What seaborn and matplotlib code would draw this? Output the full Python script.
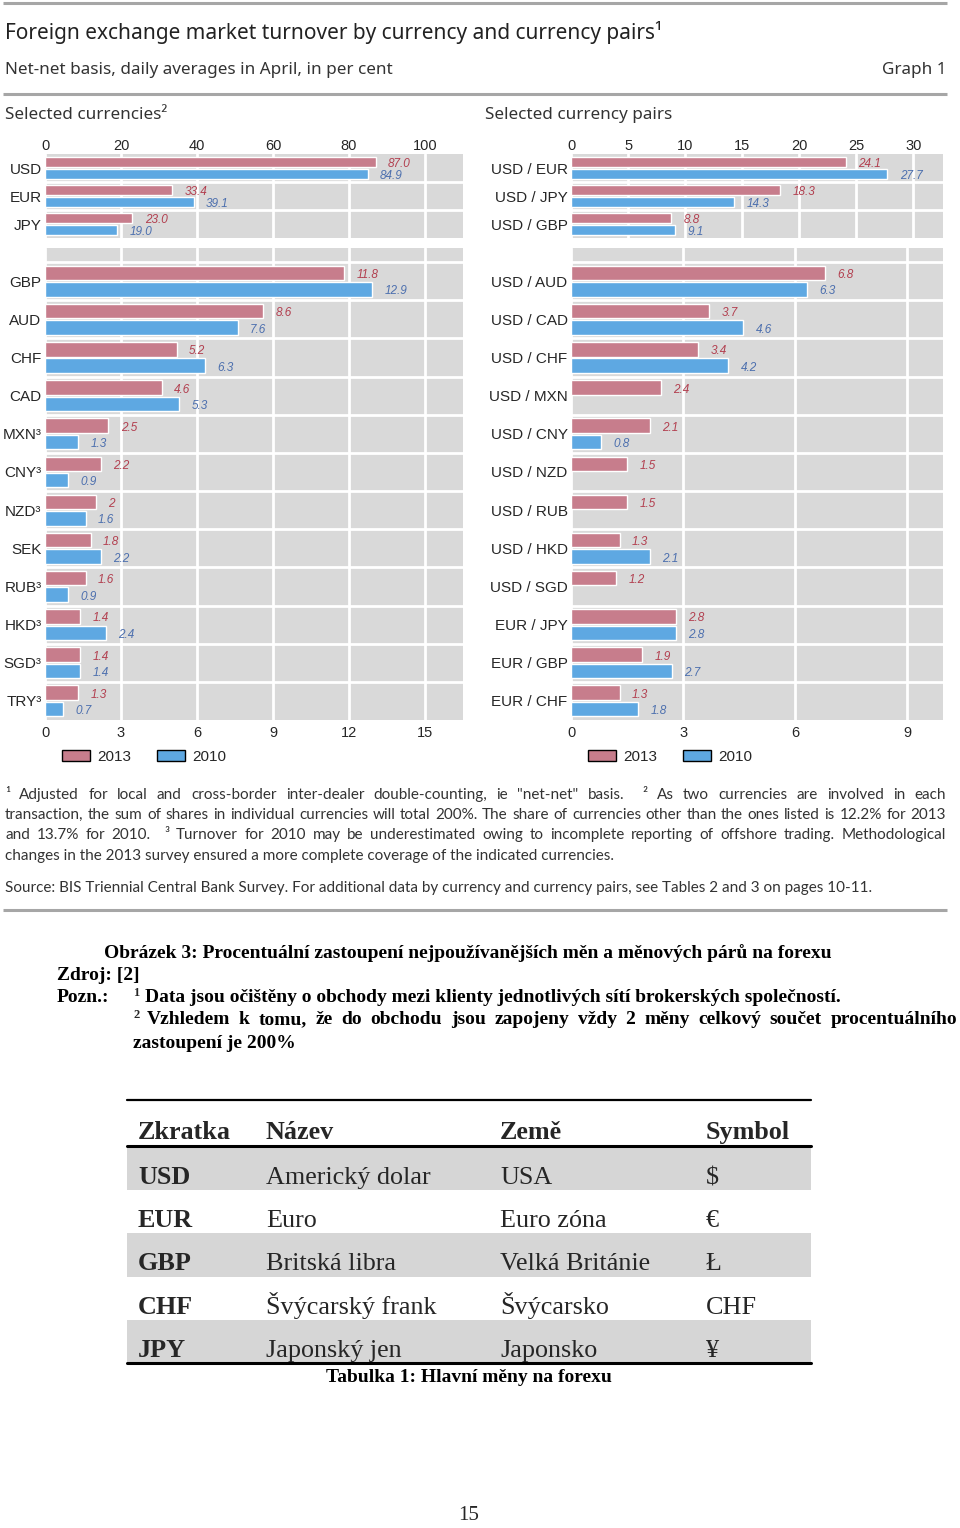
import numpy as np
import pandas as pd
import matplotlib.pyplot as plt
import seaborn as sns
from matplotlib.patches import Patch

# Graph 1 data, per cent of turnover (2013 / 2010)
top_currencies = ["USD", "EUR", "JPY"]
top_currencies_2013 = [87.0, 33.4, 23.0]
top_currencies_2010 = [84.9, 39.1, 19.0]

currencies = ["GBP", "AUD", "CHF", "CAD", "MXN³", "CNY³", "NZD³", "SEK",
              "RUB³", "HKD³", "SGD³", "TRY³"]
currencies_2013 = [11.8, 8.6, 5.2, 4.6, 2.5, 2.2, 2, 1.8, 1.6, 1.4, 1.4, 1.3]
currencies_2010 = [12.9, 7.6, 6.3, 5.3, 1.3, 0.9, 1.6, 2.2, 0.9, 2.4, 1.4, 0.7]

top_pairs = ["USD / EUR", "USD / JPY", "USD / GBP"]
top_pairs_2013 = [24.1, 18.3, 8.8]
top_pairs_2010 = [27.7, 14.3, 9.1]

pairs = ["USD / AUD", "USD / CAD", "USD / CHF", "USD / MXN", "USD / CNY",
         "USD / NZD", "USD / RUB", "USD / HKD", "USD / SGD", "EUR / JPY",
         "EUR / GBP", "EUR / CHF"]
pairs_2013 = [6.8, 3.7, 3.4, 2.4, 2.1, 1.5, 1.5, 1.3, 1.2, 2.8, 1.9, 1.3]
pairs_2010 = [6.3, 4.6, 4.2, np.nan, 0.8, np.nan, np.nan, 2.1, np.nan, 2.8, 2.7, 1.8]

years = ["2013", "2010"]

# table data
tab_header = ["Zkratka", "Název", "Země", "Symbol"]
tab_codes = ["USD", "EUR", "GBP", "CHF", "JPY"]
tab_names = ["Americký dolar", "Euro", "Britská libra", "Švýcarský frank", "Japonský jen"]
tab_countries = ["USA", "Euro zóna", "Velká Británie", "Švýcarsko", "Japonsko"]
tab_symbols = ["$", "€", "Ł", "CHF", "¥"]

PINK = "#C77D8C"
BLUE = "#5EA8E2"
PINK_TXT = "#B23F4F"
BLUE_TXT = "#4C6FAE"
BG = "#D9D9D9"

sns.set_style("darkgrid", {"axes.facecolor": BG, "grid.color": "white"})
plt.rcParams["font.family"] = ["Liberation Sans", "DejaVu Sans"]

W, H = 960, 1528
fig = plt.figure(figsize=(W / 100, H / 100), dpi=100)

# page axes in pixel coordinates for the surrounding text
page = fig.add_axes([0, 0, 1, 1])
page.set_xlim(0, W)
page.set_ylim(H, 0)
page.set_axis_off()


def rect(x0, y0, x1, y1):
    return [x0 / W, 1 - y1 / H, (x1 - x0) / W, (y1 - y0) / H]


def panel(box, labels, v13, v10, xmax, ticks, top, fmt, pad_rows=0.0):
    ax = fig.add_axes(rect(*box))
    n = len(labels)
    df = pd.DataFrame({"label": labels * 2,
                       "year": ["2013"] * n + ["2010"] * n,
                       "value": list(v13) + list(v10)}).dropna()
    sns.barplot(data=df, x="value", y="label", hue="year", hue_order=years,
                order=labels, palette=[PINK, BLUE], saturation=1, orient="h",
                width=0.86, gap=0.12, errorbar=None, legend=False, ax=ax)
    for cont, col in zip(ax.containers, [PINK_TXT, BLUE_TXT]):
        for bar in cont:
            w = bar.get_width()
            if np.isnan(w):
                continue
            ax.annotate(fmt.format(w), (w, bar.get_y() + bar.get_height() / 2),
                        xytext=(9, -1.5), textcoords="offset points",
                        va="center", ha="left", fontsize=8.5, style="italic",
                        color=col)
    ax.set_xlim(0, xmax)
    ax.set_ylim(n - 0.5, -0.5 - pad_rows)
    ax.set_xticks(ticks)
    seps = np.arange(-0.5 if pad_rows else 0.5, n - 0.5)
    ax.set_yticks(seps, minor=True)
    ax.grid(axis="y", which="major", visible=False)
    ax.grid(axis="y", which="minor", color="white", lw=2)
    ax.grid(axis="x", which="major", color="white", lw=2)
    ax.set(xlabel="", ylabel="")
    if top:
        ax.xaxis.tick_top()
        ax.tick_params(axis="x", pad=1)
    else:
        ax.tick_params(axis="x", pad=4)
    ax.tick_params(axis="x", labelsize=10.5, length=0)
    ax.tick_params(axis="y", labelsize=11, length=0, pad=2.5)
    ax.tick_params(which="minor", length=0)
    for s in ax.spines.values():
        s.set_visible(False)
    return ax


panel((45, 154, 463, 238), top_currencies, top_currencies_2013, top_currencies_2010,
      110, range(0, 101, 20), True, "{:.1f}")
panel((45, 248, 463, 720), currencies, currencies_2013, currencies_2010,
      16.5, range(0, 16, 3), False, "{:g}", pad_rows=0.37)
panel((571, 154, 943, 238), top_pairs, top_pairs_2013, top_pairs_2010,
      32.6, range(0, 31, 5), True, "{:.1f}")
panel((571, 248, 943, 720), pairs, pairs_2013, pairs_2010,
      9.95, range(0, 10, 3), False, "{:g}", pad_rows=0.37)

handles = [Patch(facecolor=PINK, edgecolor="black", lw=1, label="2013"),
           Patch(facecolor=BLUE, edgecolor="black", lw=1, label="2010")]
for lx in (62, 588):
    fig.legend(handles=handles, loc="center left",
               bbox_to_anchor=(lx / W, 1 - 757 / H), ncol=2, frameon=False,
               fontsize=11, handlelength=1.85, handleheight=0.75,
               handletextpad=0.45, columnspacing=1.7, borderaxespad=0,
               borderpad=0)

# rules and headings of the graph
for y, lw in ((3, 2.2), (94, 2.2), (910, 2.2)):
    page.plot([3, 947], [y, y], color="#A6A6A6", lw=lw, solid_capstyle="butt")

head = ["Noto Sans", "DejaVu Sans"]
page.text(5, 32, "Foreign exchange market turnover by currency and currency pairs¹",
          fontsize=15, family=head, color="#222222", va="center")
page.text(5, 70, "Net-net basis, daily averages in April, in per cent",
          fontsize=12.3, family=head, color="#333333", va="center")
page.text(946, 70, "Graph 1", fontsize=12.3, family=head, color="#333333",
          va="center", ha="right")
page.text(5, 115, "Selected currencies²", fontsize=12.3, family=head,
          color="#333333", va="center")
page.text(485, 115, "Selected currency pairs", fontsize=12.3, family=head,
          color="#333333", va="center")

renderer = fig.canvas.get_renderer()


def justify(text, x0, x1, y, **kw):
    words = text.split(" ")
    objs = [page.text(0, y, w, va="center", **kw) for w in words]
    widths = [o.get_window_extent(renderer).width for o in objs]
    gap = (x1 - x0 - sum(widths)) / (len(words) - 1)
    x = x0
    for o, w in zip(objs, widths):
        o.set_x(x)
        x += w + gap


note = dict(fontsize=11, family=["Lato", "DejaVu Sans"], color="#333333")
justify('¹ Adjusted for local and cross-border inter-dealer double-counting, ie "net-net" '
        'basis.  ² As two currencies are involved in each', 5, 946, 795, **note)
justify("transaction, the sum of shares in individual currencies will total 200%. The share "
        "of currencies other than the ones listed is 12.2% for 2013", 5, 946, 815, **note)
justify("and 13.7% for 2010.  ³ Turnover for 2010 may be underestimated owing to incomplete "
        "reporting of offshore trading. Methodological", 5, 946, 835, **note)
page.text(5, 856, "changes in the 2013 survey ensured a more complete coverage of the "
          "indicated currencies.", va="center", **note)
page.text(5, 888, "Source: BIS Triennial Central Bank Survey. For additional data by currency "
          "and currency pairs, see Tables 2 and 3 on pages 10-11.", va="center", **note)

# Czech caption below the graph
serif = ["Liberation Serif", "DejaVu Serif"]
cz = dict(fontsize=14, family=serif, weight="bold", color="black")
page.text(104, 953, "Obrázek 3: Procentuální zastoupení nejpoužívanějších měn a měnových "
          "párů na forexu", va="center", **cz)
page.text(57, 976, "Zdroj: [2]", va="center", **cz)
page.text(57, 998, "Pozn.:", va="center", **cz)
page.text(133, 993, "1", va="center", fontsize=9, family=serif, weight="bold")
page.text(145, 998, "Data jsou očištěny o obchody mezi klienty jednotlivých sítí "
          "brokerských společností.", va="center", **cz)
page.text(133, 1015, "2", va="center", fontsize=9, family=serif, weight="bold")
justify("Vzhledem k tomu, že do obchodu jsou zapojeny vždy 2 měny celkový součet "
        "procentuálního", 147, 957, 1020, **cz)
page.text(133, 1043, "zastoupení je 200%", va="center", **cz)

# table of main currencies
tx0, tx1 = 127, 811
row_h = 43.2
body_top = 1147
for i in range(len(tab_codes)):
    if i % 2 == 0:
        page.fill_between([tx0, tx1], body_top + i * row_h, body_top + (i + 1) * row_h,
                          color="#D6D6D6", lw=0)
page.plot([tx0, tx1], [1100, 1100], color="black", lw=1.6)
page.plot([tx0, tx1], [1146, 1146], color="black", lw=2.2)
page.plot([tx0, tx1], [1363, 1363], color="black", lw=2.2)

col_x = [138, 266, 500, 706]
for x, h in zip(col_x, tab_header):
    page.text(x, 1139, h, fontsize=18.8, family=serif, weight="bold", va="baseline")
for i, row in enumerate(zip(tab_codes, tab_names, tab_countries, tab_symbols)):
    yb = 1184 + i * row_h
    for j, (x, s) in enumerate(zip(col_x, row)):
        page.text(x, yb, s, fontsize=18.8, family=serif, va="baseline",
                  weight="bold" if j == 0 else "normal")

page.text(469, 1377, "Tabulka 1: Hlavní měny na forexu", ha="center", va="center", **cz)
page.text(469, 1516, "15", ha="center", va="center", fontsize=15, family=serif)

fig.savefig("out.png", dpi=100, facecolor="white")
